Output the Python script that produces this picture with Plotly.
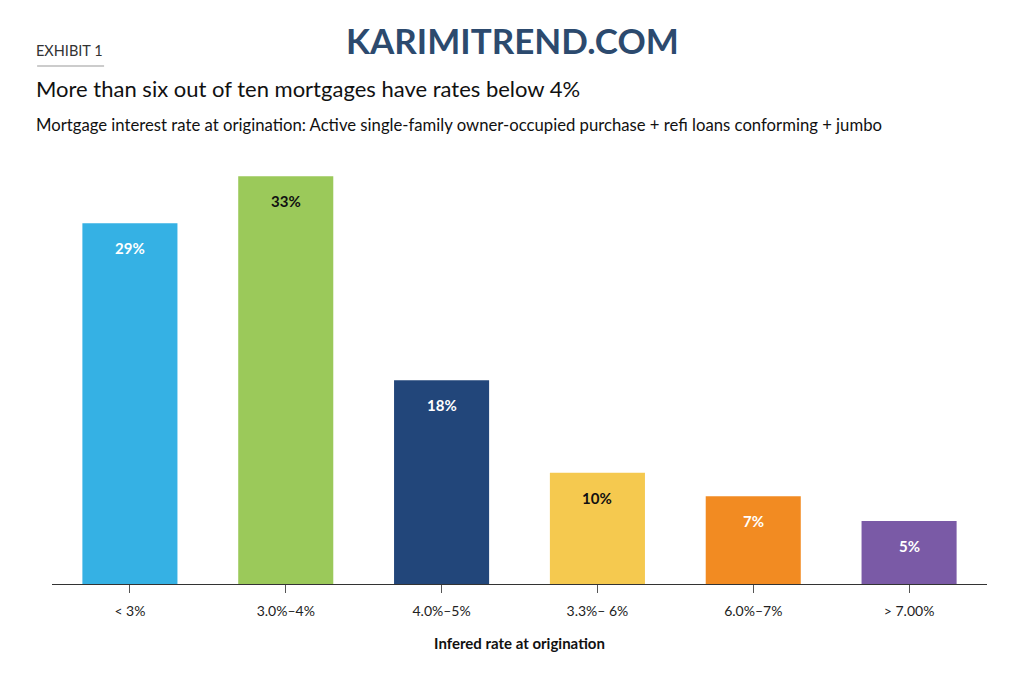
import plotly.graph_objects as go

categories = ["< 3%", "3.0%–4%", "4.0%–5%", "3.3%– 6%", "6.0%–7%", "> 7.00%"]
values = [29.2, 33.0, 16.5, 9.0, 7.1, 5.1]
labels = ["29%", "33%", "18%", "10%", "7%", "5%"]
colors = ["#35b1e4", "#9bc95a", "#22467a", "#f5c94f", "#f28b22", "#7a5aa6"]
label_colors = ["white", "#111111", "white", "#111111", "white", "white"]

font = "Lato"
PT = 156  # plot top in figure px

fig = go.Figure()
fig.add_trace(go.Bar(x=categories, y=values, marker=dict(color=colors, line=dict(width=0)),
                     hoverinfo="skip"))

for c, v, t, lc in zip(categories, values, labels, label_colors):
    fig.add_annotation(x=c, y=v, text=f"<b>{t}</b>", showarrow=False, yanchor="middle",
                       yshift=-25, font=dict(family=font, size=15, color=lc))

fig.update_layout(
    width=1024, height=692,
    margin=dict(l=44, r=45, t=PT, b=116),
    paper_bgcolor="white", plot_bgcolor="white",
    bargap=0.39,
    showlegend=False,
    font=dict(family=font, color="#222222"),
    xaxis=dict(showline=True, linecolor="#333333", linewidth=1, ticks="outside",
               ticklen=8, tickcolor="#555555", tickfont=dict(size=14, color="#222222"),
               ticklabelstandoff=6,
               title=dict(text="<b>Infered rate at origination</b>", font=dict(size=15, color="#111111"), standoff=20)),
    yaxis=dict(visible=False, range=[0, 34]),
)

def top_text(text, x, y_page, size, color, anchor="left"):
    fig.add_annotation(xref="paper", yref="paper", x=x, y=1, xanchor=anchor, yanchor="middle",
                       yshift=(PT + 8) - y_page, text=text, showarrow=False,
                       font=dict(family=font, size=size, color=color))

top_text("<b>KARIMITREND.COM</b>", 0.493, 40, 35, "#2c4a6e", anchor="center")
top_text("EXHIBIT 1", -0.019, 50, 14.5, "#333333")
top_text("More than six out of ten mortgages have rates below 4%", -0.019, 88, 22, "#111111")
top_text("Mortgage interest rate at origination: Active single-family owner-occupied purchase + refi loans conforming + jumbo", -0.019, 125, 16.7, "#111111")

ly = 1 + ((PT + 8) - 66) / 420
fig.add_shape(type="line", xref="paper", yref="paper", x0=-0.0159, x1=0.0557, y0=ly, y1=ly,
              line=dict(color="#999999", width=1))

fig.write_html("out.html")
